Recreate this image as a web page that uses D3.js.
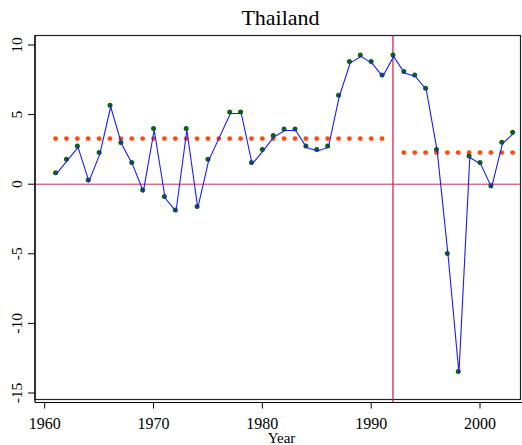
<!DOCTYPE html>
<html>
<head>
<meta charset="utf-8">
<script src="https://cdn.jsdelivr.net/npm/d3@7"></script>
<style>
  body { margin: 0; background: #fff; }
  text { font-family: "Liberation Serif", "Times New Roman", Times, serif; fill: #000; }
</style>
</head>
<body>
<div id="chart"></div>
<script>
// data (1976 has no value: the line just runs across it)
const years = d3.range(1961, 2004);
const growth = [
  0.83, 1.8, 2.75, 0.31, 2.27, 5.67, 2.99, 1.55, -0.41, 4.0,
  -0.89, -1.85, 4.0, -1.61, 1.8, null, 5.19, 5.19, 1.55, 2.5,
  3.5, 3.97, 3.97, 2.75, 2.5, 2.75, 6.39, 8.81, 9.29, 8.81,
  7.85, 9.29, 8.09, 7.85, 6.9, 2.5, -4.98, -13.46, 2.03, 1.55,
  -0.12, 3.02, 3.74
];
const breakYear = 1992;
const periods = [
  { from: 1961, to: 1991, mean: 3.28 },
  { from: 1993, to: 2003, mean: 2.27 }
];
const xTicks = [1960, 1970, 1980, 1990, 2000];
const yTicks = [10, 5, 0, -5, -10, -15];

const W = 522, H = 445;
const box = { left: 35, right: 520.5, top: 35.5, bottom: 399.5 };
const axisY = 402.5;

const x = d3.scaleLinear().domain([1960, 2000]).range([44.7, 480]);
const y = d3.scaleLinear().domain([-15, 10]).range([393, 45]);

const points = years
  .map((yr, i) => ({ year: yr, value: growth[i] }))
  .filter(d => d.value !== null);

const svg = d3.select('#chart').append('svg')
  .attr('width', W)
  .attr('height', H);

// plot region border
svg.append('rect')
  .attr('x', box.left)
  .attr('y', box.top)
  .attr('width', box.right - box.left)
  .attr('height', box.bottom - box.top)
  .attr('fill', 'none')
  .attr('stroke', '#222')
  .attr('stroke-width', 1.2);

// reference lines
svg.append('line')
  .attr('x1', box.left).attr('x2', box.right)
  .attr('y1', y(0)).attr('y2', y(0))
  .attr('stroke', '#c8285a').attr('stroke-width', 1);

svg.append('line')
  .attr('x1', x(breakYear)).attr('x2', x(breakYear))
  .attr('y1', box.top).attr('y2', axisY)
  .attr('stroke', '#d8143c').attr('stroke-width', 1.2);

// period means as dotted rows
periods.forEach(p => {
  svg.append('g')
    .selectAll('circle')
    .data(d3.range(p.from, p.to + 1))
    .enter()
    .append('circle')
    .attr('cx', d => x(d))
    .attr('cy', y(p.mean))
    .attr('r', 2.4)
    .attr('fill', '#ff4a10');
});

// markers, then the connecting line on top
svg.append('g')
  .selectAll('circle')
  .data(points)
  .enter()
  .append('circle')
  .attr('cx', d => x(d.year))
  .attr('cy', d => y(d.value))
  .attr('r', 2.5)
  .attr('fill', '#0a640a');

const line = d3.line()
  .x(d => x(d.year))
  .y(d => y(d.value));

svg.append('path')
  .datum(points)
  .attr('transform', 'translate(0.7, 1.5)')
  .attr('d', line)
  .attr('fill', 'none')
  .attr('stroke', '#1a1aff')
  .attr('stroke-width', 1.1);

// y axis
const yAxis = svg.append('g');
yAxis.append('line')
  .attr('x1', box.left).attr('x2', box.left)
  .attr('y1', box.top).attr('y2', axisY)
  .attr('stroke', '#000').attr('stroke-width', 1.2);
yAxis.selectAll('.ytick')
  .data(yTicks)
  .enter()
  .append('line')
  .attr('x1', box.left - 7).attr('x2', box.left)
  .attr('y1', d => y(d)).attr('y2', d => y(d))
  .attr('stroke', '#000');
yAxis.selectAll('.ylab')
  .data(yTicks)
  .enter()
  .append('text')
  .attr('transform', d => `translate(21.5, ${y(d)}) rotate(-90)`)
  .attr('text-anchor', 'middle')
  .style('font-size', '15.5px')
  .text(d => d);

// x axis
const xAxis = svg.append('g');
xAxis.append('line')
  .attr('x1', box.left).attr('x2', W)
  .attr('y1', axisY).attr('y2', axisY)
  .attr('stroke', '#000').attr('stroke-width', 1.2);
xAxis.selectAll('.xtick')
  .data(xTicks)
  .enter()
  .append('line')
  .attr('x1', d => x(d)).attr('x2', d => x(d))
  .attr('y1', axisY).attr('y2', axisY + 6)
  .attr('stroke', '#000');
xAxis.selectAll('.xlab')
  .data(xTicks)
  .enter()
  .append('text')
  .attr('x', d => x(d))
  .attr('y', 429)
  .attr('text-anchor', 'middle')
  .style('font-size', '16px')
  .text(d => d);

svg.append('text')
  .attr('x', 281.5)
  .attr('y', 442.5)
  .attr('text-anchor', 'middle')
  .style('font-size', '15px')
  .text('Year');

svg.append('text')
  .attr('x', 280.5)
  .attr('y', 25)
  .attr('text-anchor', 'middle')
  .style('font-size', '22px')
  .text('Thailand');
</script>
</body>
</html>
